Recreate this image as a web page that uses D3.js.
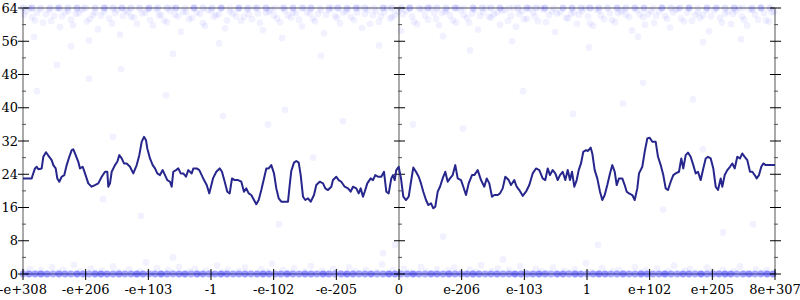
<!DOCTYPE html>
<html>
<head>
<meta charset="utf-8">
<script src="https://cdn.jsdelivr.net/npm/d3@7"></script>
<style>
  body { margin: 0; background: #fff; }
  svg { display: block; font-family: "DejaVu Serif", serif; font-size: 13px; }
</style>
</head>
<body>
<svg width="800" height="300"></svg>
<script>
// x is the bucket position (0..752) across the sampled float range
const xTickLabels = ["-e+308", "-e+206", "-e+103", "-1", "-e-102", "-e-205", "0",
                     "e-206", "e-103", "1", "e+102", "e+205", "8e+307"];
const yMajorTicks = [0, 8, 16, 24, 32, 40, 48, 56, 64];
const yMinorTicks = [4, 12, 20, 28, 36, 44, 52, 60];

// running average (navy line)
const avgLine = [
  [0,23.0],[8.7,23.0],[9.7,23.8],[12,25.4],[13.7,25.8],[15.3,25.2],[18.7,25.4],[20.3,28.2],
  [23,29.3],[25.3,28.5],[28.7,27.4],[30.3,26.2],[32.7,25.4],[34.3,23],[36.3,22.2],[38.7,23.4],
  [41.3,23.8],[43.7,26.2],[46.3,28.2],[48.7,29.8],[50.3,30],[52,29],[55.3,27],[57,25.4],
  [59.7,25.8],[62,24.2],[65.3,21.8],[68.7,21],[72,21.4],[75.3,21.8],[78.7,23.4],[82,24.6],
  [84.3,24.6],[85.3,21],[87,21.8],[88.7,24.6],[92,26.2],[94.3,27],[96.3,28.6],[98.7,27.8],
  [101,26.6],[103.7,26.6],[107,25.8],[110.3,24.2],[113.7,26.2],[116.3,28.6],[118.7,31.8],[121,33],
  [123,32.2],[124.3,30.2],[127,27.8],[129.7,26.2],[132,25.4],[134.3,24.2],[137,23.8],[139.7,25],
  [142,23.8],[144.3,22.6],[147,22.2],[148.7,21],[150.3,24.6],[153,25],[155.3,25.4],[157.7,24.2],
  [160.3,24.2],[163,23.4],[165.3,25],[168.7,24.2],[170.3,25.4],[173.7,25.4],[176.3,25],[178.7,23.8],
  [181,22.6],[183.7,21.4],[186.3,19.4],[190,23],[193.3,24.6],[196.7,25.4],[199,24.6],[201.7,22.2],
  [204.3,19.8],[206.7,19.4],[209,23],[211.7,22.6],[215,22.6],[218.3,22.2],[221,19.8],[223.3,20.6],
  [225.7,19.4],[228.3,19],[231,17.8],[233.3,16.8],[235.7,17.8],[238.3,20.2],[241,23],[243.3,25.4],
  [245.7,25.4],[248.3,26.2],[251,24.2],[253.3,20.6],[255.7,18.2],[258.3,17.4],[261.7,17.4],[265,17.4],
  [266.7,21.4],[268.3,24.8],[271,26.8],[273.3,27.2],[275.7,26.8],[277.7,23.8],[280,18.6],[282.3,17.8],
  [285,18.2],[287.7,17.4],[291,19],[293.3,21.4],[296.7,22.2],[300,21.8],[302.3,20.6],[305,20.2],
  [308.3,21],[310,22.6],[313.3,23.4],[315.7,22.6],[318.3,22.2],[321.7,21],[325,20.6],[327.7,19.8],
  [330,21],[333.3,20.6],[335.7,19.4],[337.7,20.6],[340,18.6],[341.7,19.8],[344.3,21.8],[347.7,23],
  [350,22.6],[352.3,23.8],[355,23.4],[358.3,23.4],[361,24.6],[363.3,19.8],[365.7,19.4],[368.3,23],
  [370,23.8],[371.7,22.6],[373.3,25],[375.7,25.8],[378,23],[380.3,18.6],[383,17.8],[385.7,18.6],
  [388,22.2],[390.3,25.6],[393,24.6],[395.7,23.4],[398,21.8],[400.3,19.8],[403,17.8],[405.3,16.6],
  [408,17],[410.3,15.8],[412.3,16.2],[414.7,19.8],[417,21],[419.7,23],[422.3,24.6],[424.7,22.2],
  [427,23],[429.7,23.8],[432.3,26.2],[434.7,23],[438,22.6],[440.3,21],[443,19],[445.7,21.8],
  [449,23.8],[451.3,23.8],[454.7,25],[458,22.6],[461.3,21],[463.7,23],[466.3,21.8],[469,18.6],
  [471.3,19],[474.7,19],[477,19.4],[479.7,20.6],[482.3,23.4],[485.7,22.6],[488,21.4],[491.3,22.6],
  [493.7,21],[496.3,20.2],[499.7,18.8],[503,19.8],[506.3,21.4],[509.7,24.2],[513,25.4],[516.3,25],
  [519.7,23],[522.3,22.6],[524.7,25.4],[527,23.8],[529.7,25],[532.3,24.2],[534.7,22.6],[537,23.8],
  [539.7,24.6],[542.3,22.6],[544.7,25],[547,22.6],[549,24.6],[551.3,21],[553.7,22.6],[555.7,25],
  [558,26.6],[560.3,29.4],[563,29.8],[565,29.6],[567.7,30.4],[569.3,29],[571.7,25],[574.3,23],
  [577,19.8],[579.3,17.8],[581.7,19],[584.3,21.4],[587,24.2],[589.3,26.2],[591.7,24.6],[593.7,21.4],
  [596,23],[599.3,23],[601.7,21.4],[603.7,19.8],[606,19.4],[609.3,19],[611.7,17.8],[614.3,20.6],
  [616,24.2],[619.3,25.8],[621.7,29.4],[624.3,32.6],[626.7,32.8],[629.3,31.8],[632.7,31.8],[635,28.2],
  [637.7,26.2],[640.3,23.8],[642.7,20.6],[645,20.2],[647.7,22.2],[650.3,23.8],[652.7,24.2],[656,24.6],
  [658.3,27.8],[660.3,25.4],[662.7,28.6],[665,29.2],[667.7,28.2],[670.3,26.2],[672.7,24.2],[675,24.6],
  [677.7,22.6],[680.3,25.4],[682.7,27.8],[685,28.2],[687.7,27.8],[690.3,25.4],[692.7,21],[695,20.2],
  [697.7,23],[699.3,21],[701.7,23.8],[704.3,25],[707,25.8],[709.3,26.6],[711.7,25.4],[714.3,28.2],
  [717,27.8],[719.3,29],[721.7,28.2],[724.3,27.4],[727,24.6],[729.3,24.6],[731.7,23.8],[733.7,23],
  [736,23.8],[738.3,25.8],[740.3,26.6],[742.7,26.2],[752,26.2]
];

// samples near the top (high values)
const topDots = [
  [3,63.2],[9,61.8],[14,62.9],[20,60.5],[26,63.5],[31,62.1],[37,59.4],[42,63.0],[48,61.2],[53,62.6],
  [59,63.6],[64,60.8],[70,62.3],[75,58.9],[81,63.1],[86,61.5],[92,62.8],[97,57.6],[103,63.4],[108,61.9],
  [114,60.2],[119,62.7],[125,63.7],[130,59.8],[136,62.2],[141,61.0],[147,63.3],[152,62.4],[158,58.3],[163,63.0],
  [169,61.6],[174,62.9],[180,60.4],[185,63.5],[191,61.9],[196,62.5],[202,59.1],[207,63.2],[213,62.0],[218,60.9],
  [224,63.6],[229,61.3],[235,62.7],[240,58.7],[246,63.1],[251,62.2],[257,60.6],[262,63.4],[268,61.7],[273,62.8],
  [279,59.6],[284,63.0],[290,61.4],[295,62.6],[301,57.9],[306,63.5],[312,62.1],[317,60.3],[323,63.2],[328,61.8],
  [334,62.9],[339,59.2],[345,63.6],[350,62.3],[356,60.7],[361,63.0],[367,61.5],[372,62.4],[378,58.5],[383,63.3],
  [389,62.0],[394,60.1],[400,63.7],[405,61.2],[411,62.8],[416,59.9],[422,63.1],[427,62.2],[433,60.5],[438,63.4],
  [444,61.6],[449,62.7],[455,58.8],[460,63.0],[466,61.9],[471,62.5],[477,60.0],[482,63.5],[488,62.1],[493,59.5],
  [499,63.2],[504,61.4],[510,62.9],[515,60.8],[521,63.6],[526,62.3],[532,58.2],[537,63.0],[543,61.7],[548,62.6],
  [554,60.2],[559,63.3],[565,62.0],[570,59.7],[576,63.4],[581,61.3],[587,62.8],[592,60.6],[598,63.1],[603,62.4],
  [609,58.6],[614,63.5],[620,61.8],[625,62.5],[631,60.4],[636,63.2],[642,62.1],[647,59.3],[653,63.6],[658,61.5],
  [664,62.9],[669,60.9],[675,63.0],[680,62.2],[686,58.4],[691,63.4],[697,61.6],[702,62.7],[708,60.1],[713,63.3],
  [719,62.0],[724,59.8],[730,63.5],[735,61.2],[741,62.8],[746,60.7],[751,63.1],
  [1,62.4],[6,64],[12,61.0],[17,63.8],[23,62.5],[28,60.9],[34,63.9],[39,62.0],[45,63.3],[50,59.9],
  [56,62.8],[61,64],[67,61.4],[72,63.0],[78,62.2],[83,64],[89,60.3],[94,63.6],[100,62.1],[105,63.0],
  [111,61.7],[116,64],[122,62.9],[127,61.1],[133,63.7],[138,62.4],[144,60.6],[149,64],[155,62.0],[160,63.1],
  [166,61.3],[171,64],[177,62.6],[182,59.7],[188,63.4],[193,62.3],[199,64],[204,61.0],[210,62.7],[215,63.8],
  [221,61.9],[226,62.5],[232,64],[237,60.4],[243,62.9],[248,63.6],[254,61.5],[259,64],[265,62.2],[270,63.0],
  [276,61.2],[281,64],[287,62.7],[292,60.8],[298,63.5],[303,62.4],[309,64],[314,61.6],[320,62.9],[325,63.7],
  [331,61.1],[336,64],[342,62.6],[347,60.2],[353,63.3],[358,62.0],[364,64],[369,61.8],[375,63.1],[380,62.5],
  [386,64],[391,60.7],[397,63.8],[402,62.2],[408,64],[413,61.4],[419,62.8],[424,63.5],[430,61.0],[435,64],
  [441,62.3],[446,60.5],[452,63.6],[457,62.1],[463,64],[468,61.7],[474,62.9],[479,63.4],[485,60.9],[490,64],
  [496,62.6],[501,61.3],[507,63.9],[512,62.0],[518,64],[523,60.6],[529,63.2],[534,62.7],[540,64],[545,61.5],
  [551,63.0],[556,62.4],[562,64],[567,60.3],[573,63.7],[578,62.2],[584,64],[589,61.1],[595,62.8],[600,63.5],
  [606,61.8],[611,64],[617,62.5],[622,60.0],[628,63.3],[633,62.1],[639,64],[644,61.4],[650,62.9],[655,63.8],
  [661,60.8],[666,64],[672,62.3],[677,61.6],[683,63.4],[688,62.0],[694,64],[699,60.5],[705,63.1],[710,62.6],
  [716,64],[721,61.2],[727,63.6],[732,62.4],[738,64],[743,61.0],[749,63.0],
  [11,57.0],[48,54.8],[66,56.2],[150,53.0],[196,55.5],[259,56.8],[298,52.5],[356,55.0],[420,57.2],[447,53.8],
  [489,56.0],[566,54.5],[615,57.1],[680,55.8],[718,56.5]
];

// sparse samples in the middle
const midDots = [
  [34,50.3],[98,49.3],[66,47],[14,44],[143,43],[262,39.5],[320,36.8],[245,36],[390,36],[550,38.5],
  [620,46],[670,42],[118,14],[256,12],[150,4],[360,5],[372,7],[420,9],[480,3.5],[575,7],
  [640,15.5],[700,10],[730,12],[290,28],[90,33],[200,38],[500,44],[600,41],[440,35],[80,18],[680,30]
];

// samples near the bottom (low values)
const bottomDots = [
  [2,0.5],[7,1.2],[13,0.2],[18,0.9],[24,0],[29,1.6],[35,0.4],[40,1.0],[46,0.1],[51,2.2],
  [57,0.7],[62,0],[68,1.3],[73,0.3],[79,0.8],[84,0],[90,1.8],[95,0.5],[101,0.1],[106,1.1],
  [112,0],[117,0.6],[123,2.8],[128,0.2],[134,1.4],[139,0],[145,0.9],[150,0.3],[156,1.7],[161,0],
  [167,0.6],[172,1.2],[178,0.1],[183,0.8],[189,0],[194,2.0],[200,0.4],[205,1.0],[211,0],[216,0.7],
  [222,1.5],[227,0.2],[233,0],[238,1.1],[244,0.5],[249,2.5],[255,0],[260,0.9],[266,0.3],[271,1.4],
  [277,0],[282,0.6],[288,1.9],[293,0.1],[299,0.8],[304,0],[310,1.2],[315,0.4],[321,0],[326,1.6],
  [332,0.7],[337,0.2],[343,1.0],[348,0],[354,0.5],[359,2.3],[365,0.1],[370,0.9],[376,0],[381,1.3],
  [387,0.4],[392,0],[398,1.7],[403,0.6],[409,0.2],[414,1.1],[420,0],[425,0.8],[431,1.5],[436,0.3],
  [442,0],[447,1.0],[453,0.5],[458,2.1],[464,0],[469,0.7],[475,1.3],[480,0.1],[486,0.9],[491,0],
  [497,1.8],[502,0.4],[508,0],[513,1.2],[519,0.6],[524,0.2],[530,1.5],[535,0],[541,0.8],[546,0.3],
  [552,1.1],[557,0],[563,2.6],[568,0.5],[574,0.1],[579,1.4],[585,0],[590,0.7],[596,1.0],[601,0.2],
  [607,0],[612,1.6],[618,0.4],[623,0.9],[629,0],[634,1.3],[640,0.1],[645,0.6],[651,2.0],[656,0],
  [662,0.8],[667,1.2],[673,0.3],[678,0],[684,1.5],[689,0.5],[695,0.1],[700,1.0],[706,0],[711,0.7],
  [717,1.8],[722,0.2],[728,0],[733,1.1],[739,0.4],[744,0.9],[750,0]
];

// samples stacked exactly at 0 and at 64: [x, count]
const zeroRow = [
  [0,7],[6,9],[12,8],[18,10],[24,8],[30,7],[36,9],[42,8],[48,7],[54,10],[60,8],[66,7],
  [72,9],[78,10],[84,8],[90,8],[96,9],[102,7],[108,8],[114,10],[120,9],[126,7],[132,8],[138,10],
  [144,8],[150,7],[156,9],[162,9],[168,7],[174,10],[180,8],[186,7],[192,8],[198,10],[204,9],[210,7],
  [216,8],[222,9],[228,7],[234,8],[240,10],[246,9],[252,7],[258,8],[264,10],[270,8],[276,7],[282,9],
  [288,9],[294,7],[300,10],[306,8],[312,7],[318,8],[324,10],[330,9],[336,7],[342,8],[348,9],[354,7],
  [360,8],[366,10],[372,9],[378,7],[384,8],[390,10],[396,8],[402,7],[408,9],[414,9],[420,7],[426,10],
  [432,8],[438,7],[444,8],[450,10],[456,9],[462,7],[468,8],[474,9],[480,7],[486,8],[492,10],[498,9],
  [504,7],[510,8],[516,10],[522,8],[528,7],[534,9],[540,9],[546,7],[552,10],[558,8],[564,7],[570,8],
  [576,10],[582,9],[588,7],[594,8],[600,9],[606,7],[612,8],[618,10],[624,9],[630,7],[636,8],[642,10],
  [648,8],[654,7],[660,9],[666,9],[672,7],[678,10],[684,8],[690,7],[696,8],[702,10],[708,9],[714,7],
  [720,8],[726,9],[732,7],[738,8],[744,10],[750,9]
];
const topRow = [
  [0,2],[9,3],[18,1],[27,2],[36,3],[45,2],[54,3],[63,1],[72,2],[81,3],[90,2],[99,3],[108,2],[117,1],
  [126,3],[135,2],[144,2],[153,3],[162,1],[171,3],[180,2],[189,2],[198,3],[207,1],[216,3],[225,2],[234,2],
  [243,3],[252,1],[261,2],[270,3],[279,2],[288,3],[297,1],[306,2],[315,3],[324,2],[333,3],[342,2],[351,1],
  [360,3],[369,2],[378,2],[387,3],[396,1],[405,3],[414,2],[423,2],[432,3],[441,1],[450,3],[459,2],[468,2],
  [477,3],[486,1],[495,2],[504,3],[513,2],[522,3],[531,1],[540,2],[549,3],[558,2],[567,3],[576,2],[585,1],
  [594,3],[603,2],[612,2],[621,3],[630,1],[639,3],[648,2],[657,2],[666,3],[675,1],[684,3],[693,2],[702,2],
  [711,3],[720,1],[729,2],[738,3],[747,2]
];

const dotOpacity = 0.055;

const svg = d3.select("svg");
const x = d3.scaleLinear().domain([0, 752]).range([23, 775]);
const y = d3.scaleLinear().domain([0, 64]).range([274, 8]);
const xTickPos = xTickLabels.map((d, i) => i * 752 / 12);

// frame lines
const frame = svg.append("g").attr("stroke", "#aaa").attr("stroke-width", 2);
frame.append("line").attr("x1", x(0)).attr("x2", x(752)).attr("y1", y(64)).attr("y2", y(64));
frame.append("line").attr("x1", x(0)).attr("x2", x(752)).attr("y1", y(0)).attr("y2", y(0));
[0, 376, 752].forEach(v => {
    frame.append("line").attr("x1", x(v)).attr("x2", x(v)).attr("y1", y(0)).attr("y2", y(64));
});

// dots: single samples, then stacked rows (opacity compounds with count)
const dots = topDots.concat(midDots, bottomDots).map(d => [d[0], d[1], 1]);
zeroRow.forEach(d => dots.push([d[0], 0, d[1]]));
topRow.forEach(d => dots.push([d[0], 64, d[1]]));

svg.append("g")
    .selectAll("circle")
    .data(dots)
    .enter().append("circle")
    .attr("cx", d => x(d[0]))
    .attr("cy", d => y(d[1]))
    .attr("r", 3.4)
    .attr("fill", "blue")
    .attr("fill-opacity", d => 1 - Math.pow(1 - dotOpacity, d[2]));

// tick marks on the three vertical axes
const ticks = svg.append("g").attr("stroke", "#000").attr("stroke-width", 1);
[0, 376, 752].forEach(v => {
    const cx = x(v);
    yMajorTicks.forEach(t => {
        ticks.append("line").attr("x1", cx - 5).attr("x2", cx + 6).attr("y1", y(t)).attr("y2", y(t));
    });
    yMinorTicks.forEach(t => {
        ticks.append("line").attr("x1", cx - 1).attr("x2", cx + 3).attr("y1", y(t)).attr("y2", y(t))
            .attr("stroke", "#555");
    });
});
// x ticks
xTickPos.forEach(v => {
    ticks.append("line").attr("x1", x(v)).attr("x2", x(v)).attr("y1", y(0) - 5).attr("y2", y(0) + 6);
});

// labels
svg.append("g")
    .selectAll("text")
    .data(yMajorTicks)
    .enter().append("text")
    .attr("x", 18)
    .attr("y", d => y(d))
    .attr("dy", "0.35em")
    .attr("text-anchor", "end")
    .text(d => d);

svg.append("g")
    .selectAll("text")
    .data(xTickLabels)
    .enter().append("text")
    .attr("x", (d, i) => x(xTickPos[i]))
    .attr("y", 294)
    .attr("text-anchor", "middle")
    .text(d => d);

// running average line
const line = d3.line().x(d => x(d[0])).y(d => y(d[1]));
svg.append("path")
    .datum(avgLine)
    .attr("fill", "none")
    .attr("stroke", "#26268c")
    .attr("stroke-width", 2)
    .attr("stroke-linejoin", "round")
    .attr("d", line);
</script>
</body>
</html>
